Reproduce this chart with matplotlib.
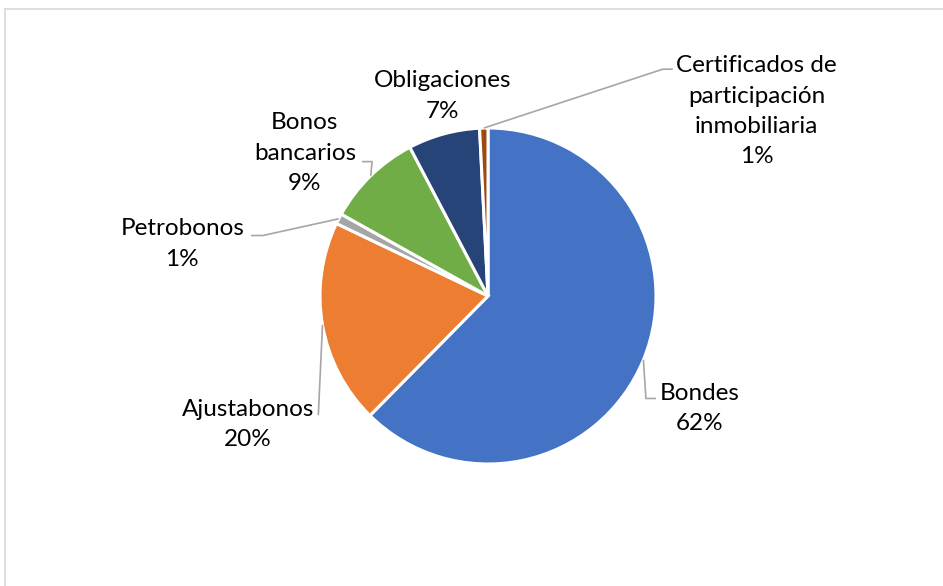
import matplotlib.pyplot as plt
import numpy as np
from matplotlib.lines import Line2D

categories = ["Bondes", "Ajustabonos", "Petrobonos", "Bonos\nbancarios",
              "Obligaciones", "Certificados de\nparticipación\ninmobiliaria"]
shares = [62.4, 19.7, 1.0, 9.2, 6.9, 0.8]
colors = ["#4472C4", "#ED7D31", "#A5A5A5", "#70AD47", "#264478", "#9E480E"]

# label centre positions (axes data units, pie radius = 1)
label_pos = [(1.26, -0.67), (-1.43, -0.765), (-1.82, 0.31), (-1.09, 0.85),
             (-0.27, 1.19), (1.60, 1.10)]
# leader lines: elbow point and end point per slice (None = no leader)
leaders = [((0.94, -0.61), (1.00, -0.61)),
           ((-1.01, -0.71), (-1.01, -0.71)),
           ((-1.34, 0.36), (-1.41, 0.36)),
           ((-0.69, 0.80), (-0.75, 0.80)),
           None,
           ((1.04, 1.35), (1.10, 1.35))]

plt.rcParams['font.family'] = ['Lato', 'DejaVu Sans']

fig = plt.figure(figsize=(9.43, 5.86), dpi=100)
W, H = 943, 586
cx, cy, r = 488, 296, 168
ax = fig.add_axes([(cx - r) / W, (H - cy - r) / H, 2 * r / W, 2 * r / H])

wedges, _ = ax.pie(shares, colors=colors, startangle=90, counterclock=False,
                   radius=1.0, wedgeprops=dict(edgecolor="white", linewidth=2.2))
ax.set_xlim(-1, 1)
ax.set_ylim(-1, 1)
ax.set_aspect("equal")
ax.axis("off")

for w, name, val, pos, ld in zip(wedges, categories, shares, label_pos, leaders):
    mid = np.deg2rad((w.theta1 + w.theta2) / 2)
    if ld is not None:
        sx, sy = 1.0 * np.cos(mid), 1.0 * np.sin(mid)
        xs = [sx, ld[0][0], ld[1][0]]
        ys = [sy, ld[0][1], ld[1][1]]
        ax.plot(xs, ys, color="#A6A6A6", lw=1.2, clip_on=False,
                solid_capstyle="butt")
    ax.text(pos[0], pos[1], f"{name}\n{val:.0f}%", ha="center", va="center",
            multialignment="center", fontsize=17.5, color="#000000",
            linespacing=1.55, clip_on=False)

# chart frame (top and left edges visible)
y_top = 1 - 9 / H
x_left = 5 / W
fig.add_artist(Line2D([x_left, 1], [y_top, y_top], color="#D9D9D9", lw=1.2,
                      transform=fig.transFigure))
fig.add_artist(Line2D([x_left, x_left], [0, y_top], color="#D9D9D9", lw=1.2,
                      transform=fig.transFigure))

fig.savefig("out.png", dpi=100, facecolor="white")
